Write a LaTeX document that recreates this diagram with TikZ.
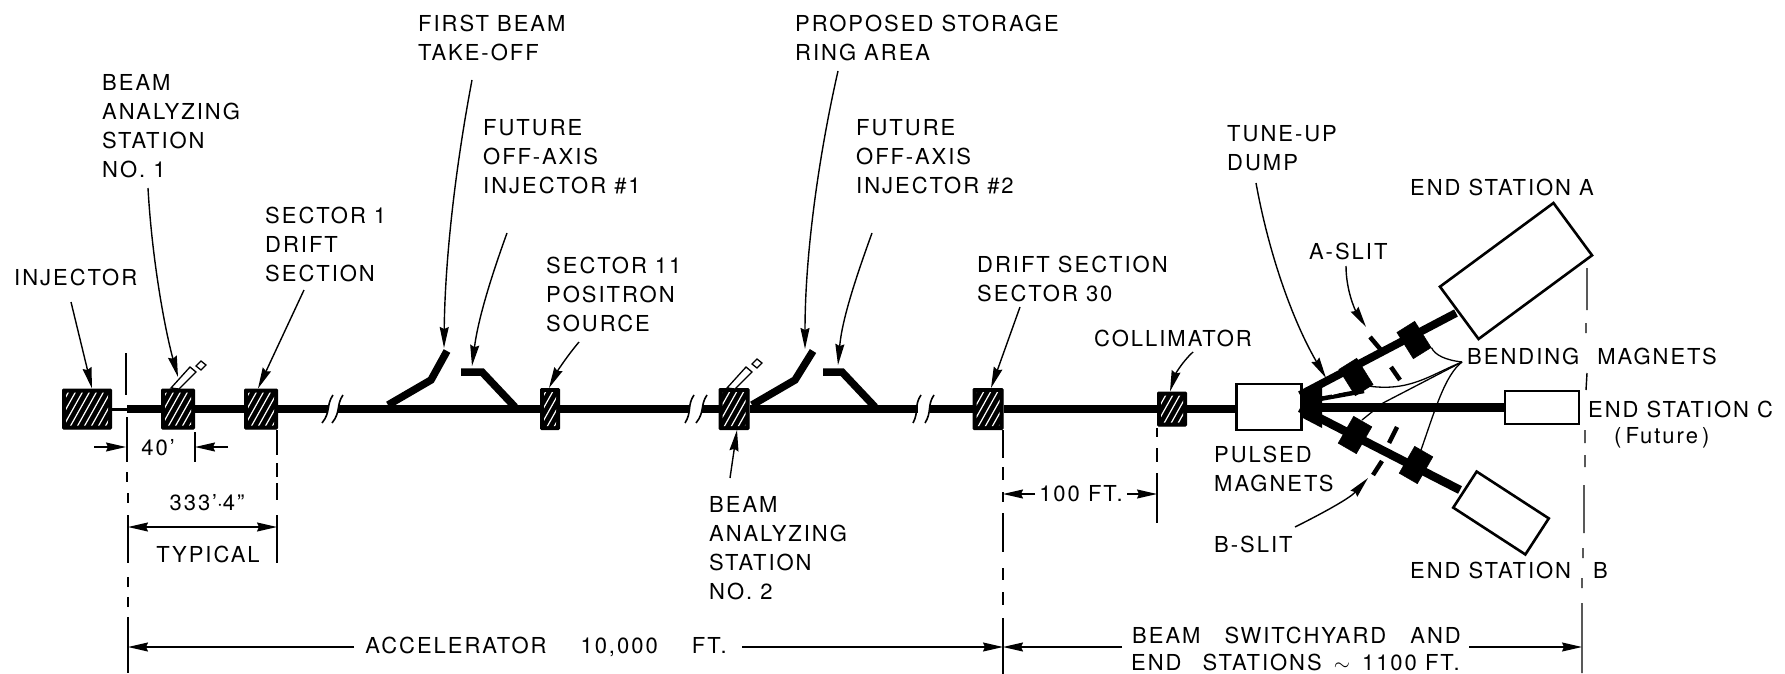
\documentclass[tikz,border=0pt]{standalone}
\usepackage{fontspec}
\setmainfont[LetterSpace=9,Ligatures=TeX]{TeX Gyre Heros}
\usetikzlibrary{arrows.meta}
\tikzset{
 lbl/.style={anchor=west,inner sep=0pt,align=left,font=\fontsize{22}{29}\selectfont},
 ctr/.style={anchor=center,inner sep=0pt,align=center,font=\fontsize{22}{29}\selectfont},
 beam/.style={line width=8pt,black},
 thinbeam/.style={line width=3pt,black},
 branch/.style={line width=7.5pt,black,line join=miter},
 lead/.style={line width=1.4pt,-{Stealth[length=21pt,width=9pt,inset=2pt]}},
 dimline/.style={line width=1.3pt,{Stealth[length=20pt,width=9pt,inset=2pt]}-{Stealth[length=20pt,width=9pt,inset=2pt]}},
 dimhalf/.style={line width=1.3pt,-{Stealth[length=20pt,width=9pt,inset=2pt]}},
 ext/.style={line width=1.4pt},
 thinlead/.style={line width=1.3pt},
 brk/.style={line width=1.6pt},
 hatchbox/.style={draw=black,line width=1pt,fill=black,rounded corners=1pt,inner sep=0pt,anchor=center,
  path picture={
   \begin{scope}
   \clip ([shift={(3.5pt,3.5pt)}]path picture bounding box.south west) rectangle ([shift={(-3.5pt,-3.5pt)}]path picture bounding box.north east);
   \foreach \i in {-63,-56,...,63}
     \draw[white,line width=1.2pt] ([shift={(\i pt-14pt,-25pt)}]path picture bounding box.center) -- ([shift={(\i pt+14pt,25pt)}]path picture bounding box.center);
   \end{scope}}},
 openbox/.style={draw=black,line width=2.6pt,fill=white,inner sep=0pt,anchor=center},
 magnet/.style={fill=black,draw=black,line width=.5pt,inner sep=0pt,anchor=center,minimum width=21pt,minimum height=31pt},
 slit/.style={line width=4.5pt},
}
\begin{document}
\begin{tikzpicture}[x=1pt,y=-1pt]
\useasboundingbox (0,0) rectangle (1785,674);
% coordinates
\coordinate (tA) at (1300,395); \coordinate (eA) at (1456,313);
\coordinate (tB) at (1300,408); \coordinate (eB) at (1460,490);
\coordinate (bk1a) at (328,409); \coordinate (bk1b) at (338,409);
\coordinate (bk2a) at (689,409); \coordinate (bk2b) at (702,409);
\coordinate (bk3a) at (918,409); \coordinate (bk3b) at (930,409);
\coordinate (dumpA) at (1303,402); \coordinate (dumpB) at (1364,391);
\coordinate (beamstart) at (127,409);
% take-off branches
\coordinate (f1a) at (388,405); \coordinate (f1b) at (431,380); \coordinate (f1c) at (447,351);
\coordinate (j1a) at (461,372); \coordinate (j1b) at (482,372); \coordinate (j1c) at (515,407);
\coordinate (f2a) at (752,405); \coordinate (f2b) at (795,380); \coordinate (f2c) at (813,351);
\coordinate (j2a) at (823,372); \coordinate (j2b) at (842,372); \coordinate (j2c) at (875,407);
% boxes
\node[hatchbox,minimum width=49pt,minimum height=40pt] (inj) at (87,409) {};
\node[hatchbox,minimum width=33pt,minimum height=40pt] (st1) at (178,409) {};
\node[hatchbox,minimum width=33pt,minimum height=40pt] (sec1) at (261,409) {};
\node[hatchbox,minimum width=19pt,minimum height=41pt] (pos) at (550,409) {};
\node[hatchbox,minimum width=30pt,minimum height=41pt] (st2) at (734,409) {};
\node[hatchbox,minimum width=30pt,minimum height=41pt] (sec30) at (988,409) {};
\node[hatchbox,minimum width=29pt,minimum height=34pt] (coll) at (1172,409) {};
% beams
\draw[thinbeam] (inj.east) -- (beamstart);
\draw[beam] (beamstart) -- (st1.west);
\draw[beam] (st1.east) -- (sec1.west);
\draw[beam] (sec1.east) -- (bk1a);
\draw[beam] (bk1b) -- (pos.west);
\draw[beam] (pos.east) -- (bk2a);
\draw[beam] (bk2b) -- (st2.west);
\draw[beam] (st2.east) -- (bk3a);
\draw[beam] (bk3b) -- (sec30.west);
\draw[beam] (sec30.east) -- (coll.west);
\draw[branch] (f1a) -- (f1b) -- (f1c);
\draw[branch] (j1a) -- (j1b) -- (j1c);
\draw[branch] (f2a) -- (f2b) -- (f2c);
\draw[branch] (j2a) -- (j2b) -- (j2c);
% periscopes
\draw[line width=1.3pt,fill=white] (171,388) -- (190,367) -- (196,372) -- (179,389) -- cycle;
\draw[line width=1.3pt,fill=white] (196,366) -- (201,361) -- (206,365) -- (201,370) -- cycle;
\draw[line width=1.3pt,fill=white] (727,388) -- (746,367) -- (752,372) -- (735,389) -- cycle;
\draw[line width=1.3pt,fill=white] (752,364) -- (757,359) -- (762,363) -- (757,368) -- cycle;
% break marks
\draw[brk] (333,395) .. controls (326,405) and (331,412) .. (322,423);
\draw[brk] (343,395) .. controls (336,405) and (341,412) .. (332,423);
\draw[brk] (694,395) .. controls (687,405) and (692,412) .. (685,423);
\draw[brk] (707,395) .. controls (700,405) and (705,412) .. (696,423);
\draw[brk] (921,395) .. controls (914,405) and (919,412) .. (913,423);
\draw[brk] (934,395) .. controls (927,405) and (932,412) .. (925,423);
% switchyard
\node[openbox,minimum width=65pt,minimum height=46pt] (pulsed) at (1269,407) {};
\node[openbox,minimum width=74pt,minimum height=33pt] (endC) at (1542,407.5) {};
\node[openbox,minimum width=141pt,minimum height=65pt,rotate=36.4] (endA) at (1516,271) {};
\node[openbox,minimum width=86pt,minimum height=43pt,rotate=-33] (endB) at (1501,513) {};
\draw[beam] (coll.east) -- (coll.east -| pulsed.west);
\draw[line width=9pt] (endC.west -| pulsed.east) -- (endC.west);
\draw[line width=8pt] (tA) -- (eA);
\draw[line width=8.5pt] (tB) -- (eB);
\draw[line width=4.5pt] (dumpA) -- (dumpB);
\fill (pulsed.east |- tA) -- (1322,387) -- (1322,428) -- (pulsed.east |- 0,418) -- cycle;
\fill[white] (1332,395) -- (1350,390) -- (1350,384) -- (1332,391) -- cycle;
\node[magnet,rotate=32] (mA1) at (1356,377) {};
\node[magnet,rotate=32] (mA2) at (1414,340) {};
\node[magnet,rotate=-30] (mB1) at (1355,435) {};
\node[magnet,rotate=-30] (mB2) at (1416,465) {};
\draw[slit] (1370,337) -- (1381,350);
\draw[slit] (1391,367) -- (1400,380);
\draw[slit] (1397,427) -- (1389,443);
\draw[slit] (1382,461) -- (1373,475);
% labels
\node[lbl] (lInj) at (14,277) {INJECTOR};
\node[lbl] (lBAS1) at (102,126) {BEAM\\ANALYZING\\STATION\\NO. 1};
\node[lbl] (lSec1) at (265,244) {SECTOR 1\\DRIFT\\SECTION};
\node[lbl] (lFB) at (418,38) {FIRST BEAM\\TAKE-OFF};
\node[lbl] (lF1) at (483,157) {FUTURE\\OFF-AXIS\\INJECTOR \#1};
\node[lbl] (lS11) at (546,294) {SECTOR 11\\POSITRON\\SOURCE};
\node[lbl] (lPS) at (795,38) {PROPOSED STORAGE\\RING AREA};
\node[lbl] (lF2) at (856,157) {FUTURE\\OFF-AXIS\\INJECTOR \#2};
\node[lbl] (lDS) at (977,279) {DRIFT SECTION\\SECTOR 30};
\node[lbl] (lColl) at (1094,338) {COLLIMATOR};
\node[lbl] (lTune) at (1227,148) {TUNE-UP\\DUMP};
\node[lbl] (lEA) at (1410,187) {END STATION A};
\node[lbl] (lAS) at (1309,251) {A-SLIT};
\node[lbl] (lBM) at (1467,356) {BENDING\hspace{10pt} MAGNETS};
\node[lbl] (lEC) at (1588,409) {END STATION C};
\node[lbl] (lFut) at (1614,438) {(\hspace{4pt}Future\hspace{4pt})};
\node[lbl] (lPM) at (1214,469) {PULSED\\MAGNETS};
\node[lbl] (lBS) at (1214,544) {B-SLIT};
\node[lbl] (lEB) at (1410,570) {END STATION};
\node[lbl] (lEB2) at (1593,570) {B};
\node[lbl] (lBAS2) at (709,548) {BEAM\\ANALYZING\\STATION\\NO. 2};
\node[ctr] (l40) at (158,448) {40'};
\node[ctr] (l333) at (207,503) {333'$\cdot$4"};
\node[ctr] (lTyp) at (208,554) {TYPICAL};
\node[ctr] (l100) at (1081,494) {100 FT.};
\node[ctr] (lAcc) at (546,647) {ACCELERATOR\hspace{26pt} 10,000\hspace{26pt} FT.};
\node[lbl] (lSw) at (1132,635) {BEAM\hspace{16pt} SWITCHYARD\hspace{16pt} AND};
\node[lbl] (lSw2) at (1131,662) {END\hspace{13pt} STATIONS\hspace{4pt} $\sim$\hspace{4pt} 1100 FT.};
% lead arrows
\draw[lead] (71,302) -- ([xshift=5pt]inj.north);
\draw[lead] (148,188) .. controls (152,260) and (165,330) .. (178,377);
\draw[lead] (304,290) -- ([xshift=-3pt]sec1.north);
\draw[lead] (472,80) .. controls (455,170) and (445,260) .. (444,348);
\draw[lead] (507,233) .. controls (490,280) and (478,320) .. (472,366);
\draw[lead] (579,342) .. controls (568,355) and (558,370) .. ([xshift=-1pt]pos.north);
\draw[lead] (838,71) .. controls (820,150) and (805,250) .. (805,349);
\draw[lead] (872,233) .. controls (855,280) and (842,320) .. (838,365);
\draw[lead] (730,478) -- ([xshift=3pt]st2.south);
\draw[lead] (1020,307) -- ([xshift=3pt]sec30.north);
\draw[lead] (1193,352) .. controls (1182,362) and (1175,375) .. ([xshift=-2pt]coll.north);
\draw[lead] (1256,183) .. controls (1270,260) and (1295,325) .. (1326,378);
\draw[lead] (1346,266) .. controls (1346,290) and (1355,310) .. (1366,327);
\draw[lead] (1295,527) .. controls (1325,512) and (1350,498) .. (1368,478);
% bending magnet leads
\coordinate (bmApex) at (1462,362);
\draw[thinlead] (bmApex) .. controls (1445,360) and (1435,355) .. (mA2.south east);
\draw[thinlead] (bmApex) .. controls (1430,375) and (1410,392) .. (1368,386);
\draw[thinlead] (bmApex) -- (1383,403) -- (1362,420);
\draw[thinlead] (bmApex) .. controls (1445,375) and (1435,410) .. (1421,450);
% extension lines
\draw[ext] (126,353) -- (126,395) (127,417) -- (127,462) (127,472) -- (127,482) (128,493) -- (128,503) (128,515) -- (128,563) (128,577) -- (128,587) (128,597) -- (128,607) (128,617) -- (128,673);
\draw[ext] (195,432) -- (195,462);
\draw[ext] (277,430) -- (277,455) (277,463) -- (277,477) (277,483) -- (277,500) (277,515) -- (277,563);
\draw[ext] (1003,430) -- (1003,458) (1003,467) -- (1003,480) (1003,492) -- (1003,502) (1003,513) -- (1003,552) (1003,568) -- (1003,580) (1003,592) -- (1003,605) (1003,618) -- (1003,674);
\draw[ext] (1157,428) -- (1157,437) (1157,448) -- (1157,462) (1157,473) -- (1157,523);
\draw[ext] (1587,268) -- (1587,310) (1586,323) -- (1586,333) (1587,373) -- (1586,390) (1585,430) -- (1585,443) (1585,455) -- (1585,467) (1584,485) -- (1584,533) (1583,548) -- (1583,558) (1582,578) -- (1582,588) (1582,603) -- (1582,673);
% dimensions
\coordinate (d40a) at (94,447); \coordinate (d40b) at (126,447);
\coordinate (d40c) at (228,447); \coordinate (d40d) at (195,447);
\draw[dimhalf] (d40a) -- (d40b);
\draw[dimhalf] (d40c) -- (d40d);
\coordinate (d333a) at (128,527); \coordinate (d333b) at (277,527);
\draw[dimline] (d333a) -- (d333b);
\coordinate (dAccA) at (128,647); \coordinate (dAccB) at (1003,647); \coordinate (dSwB) at (1582,647);
\coordinate (tailA) at (354,647); \coordinate (tailB) at (742,647); \coordinate (tailC) at (1122,647); \coordinate (tailD) at (1469,647);
\draw[dimhalf] (tailA) -- (dAccA);
\draw[dimhalf] (tailB) -- (dAccB);
\draw[dimhalf] (tailC) -- (dAccB);
\draw[dimhalf] (tailD) -- (dSwB);
\coordinate (d100a) at (1003,494); \coordinate (d100b) at (1157,494);
\coordinate (t100a) at (1035,494); \coordinate (t100b) at (1127,494);
\draw[dimhalf] (t100a) -- (d100a);
\draw[dimhalf] (t100b) -- (d100b);
\end{tikzpicture}
\end{document}
